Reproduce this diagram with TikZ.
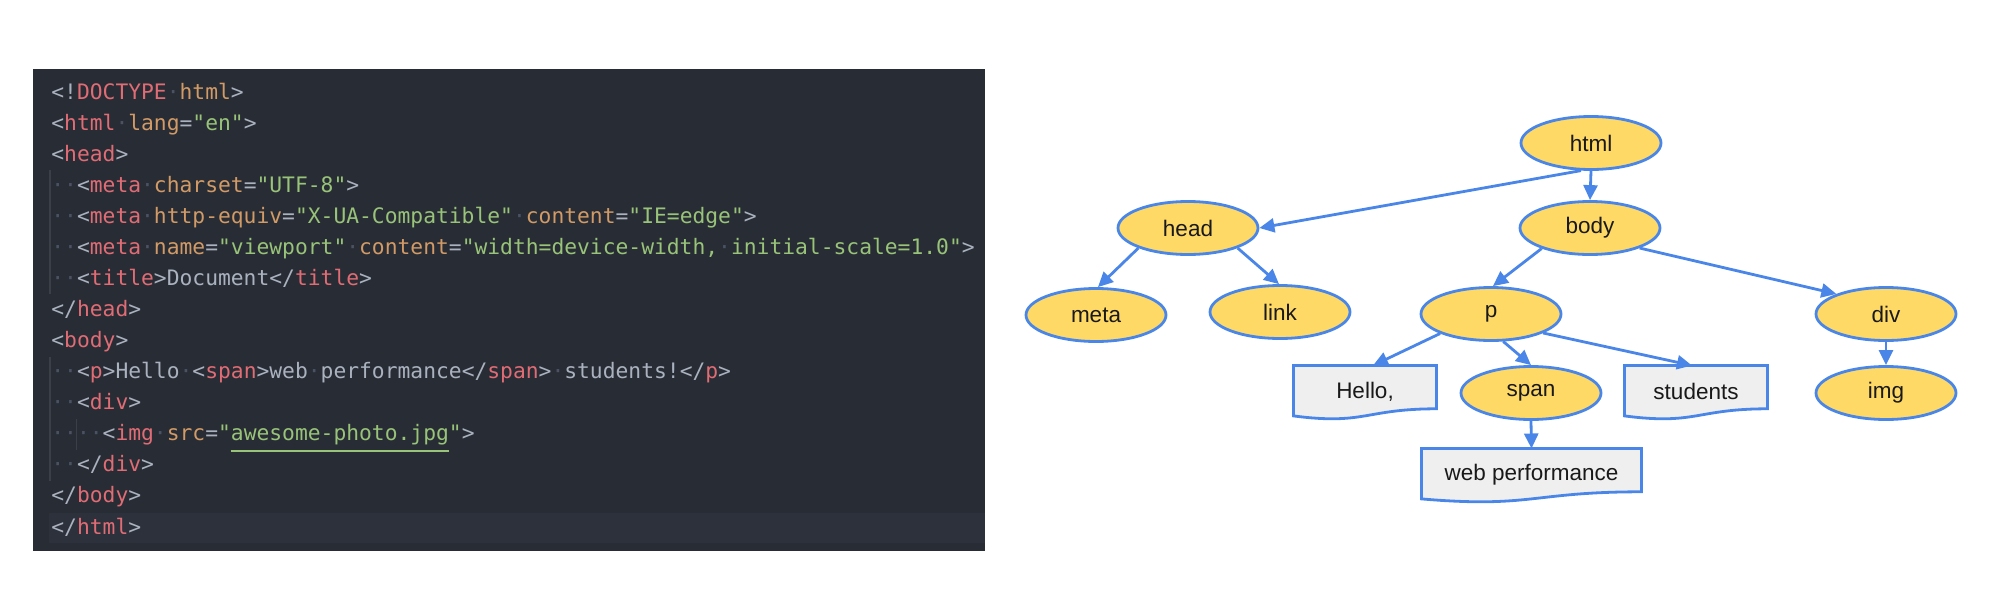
\documentclass[tikz,border=0pt]{standalone}
\usepackage{fontspec}
\setmainfont{Liberation Sans}
\newfontfamily\codefont{DejaVu Sans Mono}
\usetikzlibrary{arrows.meta,calc,shapes.geometric}
\pgfdeclarelayer{background}
\pgfsetlayers{background,main}
\definecolor{panelbg}{HTML}{282C34}
\definecolor{hlbg}{HTML}{2D313B}
\definecolor{ctag}{HTML}{E06C75}
\definecolor{cattr}{HTML}{D19A66}
\definecolor{cstr}{HTML}{98C379}
\definecolor{cpun}{HTML}{ABB2BF}
\definecolor{ctxt}{HTML}{ABB2BF}
\definecolor{cdot}{HTML}{4B5263}
\definecolor{cguide}{HTML}{3B4048}
\definecolor{cblue}{HTML}{4A86E8}
\definecolor{cyellow}{HTML}{FFD966}
\definecolor{cgray}{HTML}{EFEFEF}
\newcommand\cT[1]{\textcolor{ctag}{#1}}
\newcommand\cA[1]{\textcolor{cattr}{#1}}
\newcommand\cS[1]{\textcolor{cstr}{#1}}
\newcommand\cP[1]{\textcolor{cpun}{#1}}
\newcommand\cX[1]{\textcolor{ctxt}{#1}}
\newcommand\cW{\textcolor{cdot}{·}}
\newcommand\docshape[1]{%
  \draw[docline] (#1.north west) -- (#1.north east) -- ($(#1.north east)+(0,43.3)$)
    .. controls ($(#1.north)+(0,43.3)$) and ($(#1.north)+(0,59.8)$) .. ($(#1.north west)+(0,50.4)$) -- cycle;}
\tikzset{
  codeline/.style={anchor=base west, inner sep=0pt, font=\codefont\fontsize{10.65pt}{12pt}\selectfont},
  guide/.style={draw=cguide, line width=0.6pt},
  elem/.style={ellipse, draw=cblue, fill=cyellow, line width=1.4pt, minimum width=70pt, minimum height=26.5pt, inner sep=0pt, text=black!90, font=\fontsize{11.25pt}{13pt}\selectfont},
  docn/.style={rectangle, inner sep=0pt, outer sep=0pt, minimum height=26pt, text=black!90, font=\fontsize{11.25pt}{13pt}\selectfont},
  docline/.style={draw=cblue, fill=cgray, line width=1.4pt},
  arr/.style={draw=cblue, line width=1.4pt, -{Triangle[length=7.5pt,width=7pt]}},
}
\begin{document}
\begin{tikzpicture}[x=0.5pt,y=-0.5pt]
\useasboundingbox (0,0) rectangle (2009,594);
% code panel
\fill[panelbg] (33,69) rectangle (985,551);
\fill[hlbg] (49,513) rectangle (985,543);
\draw[guide] (50,169.5) -- (50,293.5);
\draw[guide] (50,356.5) -- (50,480.5);
\draw[guide] (76.6,418.5) -- (76.6,449.5);
\node[codeline] (l1) at (51,99) {\cP{<!}\cT{DOCTYPE}\cW\cA{html}\cP{>}};
\node[codeline] (l2) at (51,130.1) {\cP{<}\cT{html}\cW\cA{lang}\cP{=}\cS{"en"}\cP{>}};
\node[codeline] (l3) at (51,161.1) {\cP{<}\cT{head}\cP{>}};
\node[codeline] (l4) at (51,192.2) {\cW\cW\cP{<}\cT{meta}\cW\cA{charset}\cP{=}\cS{"UTF-8"}\cP{>}};
\node[codeline] (l5) at (51,223.3) {\cW\cW\cP{<}\cT{meta}\cW\cA{http-equiv}\cP{=}\cS{"X-UA-Compatible"}\cW\cA{content}\cP{=}\cS{"IE=edge"}\cP{>}};
\node[codeline] (l6) at (51,254.4) {\cW\cW\cP{<}\cT{meta}\cW\cA{name}\cP{=}\cS{"viewport"}\cW\cA{content}\cP{=}\cS{"width=device-width,}\cW\cS{initial-scale=1.0"}\cP{>}};
\node[codeline] (l7) at (51,285.4) {\cW\cW\cP{<}\cT{title}\cP{>}\cX{Document}\cP{</}\cT{title}\cP{>}};
\node[codeline] (l8) at (51,316.5) {\cP{</}\cT{head}\cP{>}};
\node[codeline] (l9) at (51,347.6) {\cP{<}\cT{body}\cP{>}};
\node[codeline] (l10) at (51,378.6) {\cW\cW\cP{<}\cT{p}\cP{>}\cX{Hello}\cW\cP{<}\cT{span}\cP{>}\cX{web}\cW\cX{performance}\cP{</}\cT{span}\cP{>}\cW\cX{students!}\cP{</}\cT{p}\cP{>}};
\node[codeline] (l11) at (51,409.7) {\cW\cW\cP{<}\cT{div}\cP{>}};
\node[codeline] (l12) at (51,440.8) {\cW\cW\cW\cW\cP{<}\cT{img}\cW\cA{src}\cP{=}\cS{"awesome-photo.jpg"}\cP{>}};
\node[codeline] (l13) at (51,471.8) {\cW\cW\cP{</}\cT{div}\cP{>}};
\node[codeline] (l14) at (51,502.9) {\cP{</}\cT{body}\cP{>}};
\node[codeline] (l15) at (51,534.0) {\cP{</}\cT{html}\cP{>}};
\draw[cstr, line width=1pt] (230.5,451) -- (448.5,451);
% tree
\node[elem] (html) at (1591,143) {html};
\node[elem] (head) at (1188,228) {head};
\node[elem] (body) at (1590,228) {body};
\node[elem] (meta) at (1096,315) {meta};
\node[elem] (link) at (1280,312) {link};
\node[elem] (p) at (1491,314) {p};
\node[elem] (div) at (1886,314) {div};
\node[elem] (span) at (1531,393) {span};
\node[elem] (img) at (1886,393) {img};
\node[docn, minimum width=71.5pt] (hello) at (1365,391.5) {Hello,};
\node[docn, minimum width=71.5pt] (students) at (1696,391.5) {students};
\node[docn, minimum width=110pt] (wp) at (1531.5,474.5) {web performance};
\begin{pgfonlayer}{background}
\docshape{hello}
\docshape{students}
\docshape{wp}
\end{pgfonlayer}
\draw[arr] (html.250) -- (head.east);
\draw[arr] (html.south) -- (body.north);
\draw[arr] (head.202) -- (meta.86);
\draw[arr] (head.338) -- (link.92);
\draw[arr] (body.203) -- (p.86);
\draw[arr] (body.338) -- (div.158);
\draw[arr] (div.south) -- (img.north);
\draw[arr] (p.201) -- ($(hello.north)+(8,0)$);
\draw[arr] (p.294) -- (span.north);
\draw[arr] (p.340) -- ($(students.north)+(-4,0)$);
\draw[arr] (span.south) -- (wp.north);
\end{tikzpicture}
\end{document}
